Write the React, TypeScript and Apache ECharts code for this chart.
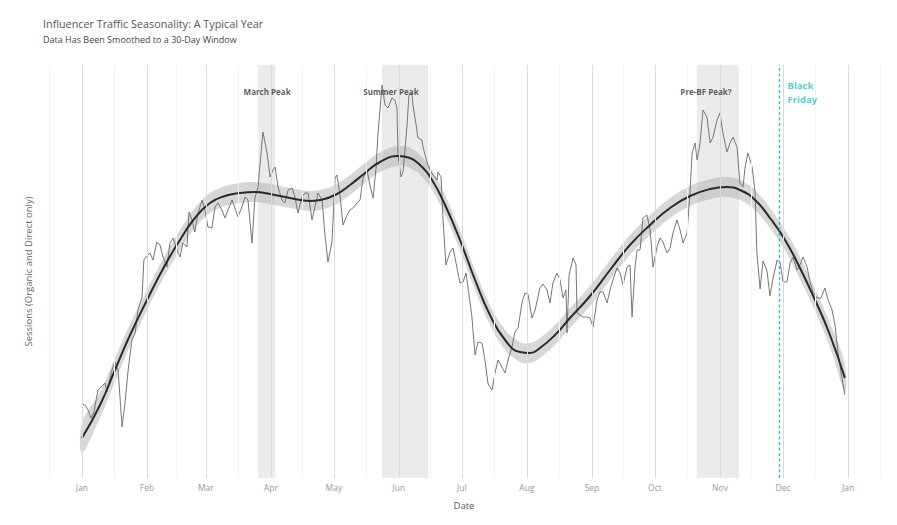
import React, { useEffect, useRef } from "react";
import * as echarts from "echarts";

// Day-of-year (0 = Jan 1) for month starts and their tick labels
const monthStartDays = [0, 31, 59, 90, 120, 151, 181, 212, 243, 273, 304, 334, 365];
const monthLabels = ["Jan", "Feb", "Mar", "Apr", "May", "Jun", "Jul", "Aug", "Sep", "Oct", "Nov", "Dec", "Jan"];
const midMonthDays = [-15.5, 15.5, 45, 74.5, 105, 135.5, 166, 196.5, 227.5, 258, 288.5, 319, 349.5, 380.5];

// Daily sessions (organic + direct), arbitrary units
const rawDays = [
  0.0, 1.4, 2.9, 4.3, 5.7, 7.6, 9.1, 11.0, 11.9, 12.9, 14.3, 15.7, 17.2, 19.1, 20.5, 21.9, 23.8, 25.3, 26.7, 28.6,
  29.5, 31.0, 32.4, 33.8, 35.7, 37.2, 38.6, 40.5, 41.9, 43.4, 45.3, 46.7, 48.1, 50.0, 51.0, 52.4, 53.8, 55.3, 57.2, 58.6,
  60.0, 61.9, 63.4, 64.8, 66.7, 68.1, 69.6, 71.5, 72.9, 74.3, 76.2, 77.7, 79.1, 81.0, 82.4, 83.9, 86.2, 88.2, 89.6, 91.0,
  92.0, 93.4, 95.3, 96.7, 98.2, 100.1, 101.5, 102.9, 104.8, 106.3, 107.7, 109.6, 111.0, 112.5, 114.4, 115.8, 117.2, 119.1, 120.6, 121.5,
  122.9, 124.4, 126.3, 127.7, 129.1, 131.0, 132.5, 133.9, 135.8, 137.2, 138.7, 140.1, 141.0, 143.0, 144.4, 145.8, 147.7, 149.1, 150.1, 150.6,
  152.0, 153.0, 154.9, 155.8, 157.2, 157.7, 159.2, 160.1, 162.0, 162.5, 164.4, 165.8, 167.3, 169.2, 169.6, 171.1, 172.0, 173.4, 175.4, 176.8,
  178.7, 180.1, 181.6, 183.0, 183.9, 185.8, 187.3, 188.7, 190.6, 192.0, 193.5, 195.4, 196.8, 198.2, 200.1, 201.6, 203.0, 204.9, 206.3, 207.8,
  209.7, 211.1, 212.5, 214.4, 215.9, 218.2, 219.7, 221.6, 223.0, 224.4, 226.3, 227.8, 229.2, 230.6, 231.1, 232.1, 234.0, 235.4, 235.9, 237.3,
  238.7, 240.6, 242.1, 243.5, 245.4, 246.8, 248.3, 250.2, 251.6, 253.0, 254.9, 256.4, 257.8, 259.7, 261.1, 262.1, 263.5, 264.5, 265.9, 267.3,
  269.2, 270.7, 272.1, 274.0, 275.4, 276.8, 278.8, 280.2, 281.6, 283.5, 285.0, 286.4, 288.3, 289.7, 290.7, 292.1, 293.1, 294.5, 295.9, 297.8,
  299.3, 300.7, 302.6, 304.0, 305.4, 307.3, 308.8, 310.2, 312.1, 313.5, 315.0, 315.9, 317.3, 319.3, 320.7, 321.6, 323.1, 324.5, 326.4, 327.8,
  329.3, 331.2, 332.6, 334.0, 335.9, 337.4, 338.8, 340.7, 342.1, 343.6, 345.5, 346.9, 348.3, 350.2, 352.1, 354.0, 355.5, 357.4, 358.8, 360.2,
  362.1, 363.5,
];
const rawSessions = [
  74, 73, 68, 60, 66, 88, 91, 95, 86, 96, 108, 116, 108, 51, 75, 106, 138, 145, 168, 181,
  218, 222, 225, 218, 236, 233, 221, 211, 235, 240, 228, 221, 235, 231, 266, 258, 246, 265, 278, 268,
  251, 250, 271, 275, 268, 260, 268, 278, 270, 261, 271, 281, 278, 235, 280, 291, 346, 325, 301, 308,
  311, 291, 278, 275, 288, 290, 281, 265, 281, 285, 285, 258, 271, 285, 278, 243, 216, 236, 300, 303,
  283, 253, 263, 268, 270, 275, 278, 300, 308, 293, 280, 310, 343, 393, 373, 370, 380, 378, 370, 323,
  301, 306, 353, 383, 385, 373, 353, 340, 338, 331, 316, 308, 303, 298, 306, 301, 260, 213, 226, 230,
  210, 195, 196, 205, 191, 161, 123, 136, 135, 118, 94, 88, 105, 118, 111, 105, 118, 131, 146, 150,
  176, 185, 184, 160, 168, 190, 194, 188, 175, 195, 205, 198, 180, 188, 145, 203, 220, 213, 165, 163,
  161, 161, 160, 151, 178, 186, 186, 175, 188, 198, 210, 205, 193, 211, 213, 161, 210, 228, 228, 260,
  263, 248, 211, 231, 240, 236, 225, 230, 245, 258, 248, 235, 245, 285, 325, 335, 318, 335, 368, 361,
  335, 341, 358, 365, 345, 326, 335, 341, 331, 295, 291, 310, 325, 311, 286, 225, 189, 217, 207, 182,
  200, 218, 216, 196, 196, 215, 221, 208, 213, 221, 211, 196, 186, 180, 180, 190, 178, 168, 153, 126,
  100, 83,
];

// 30-day smoothed trend and the half-width of its confidence band
const trendDays = [
  0, 8.6, 15.7, 22.9, 31.0, 39.6, 46.7, 53.8, 61.0, 68.1, 75.3, 82.4, 89.6, 99.1, 108.6, 113.4, 120.6, 127.7, 134.9, 142.0,
  150.6, 156.3, 161.1, 166.8, 173.0, 180.1, 187.3, 194.4, 201.6, 208.7, 213.5, 218.2, 225.4, 232.5, 242.1, 251.6, 261.1, 270.7, 280.2, 289.7,
  299.3, 307.3, 313.5, 320.7, 327.8, 335.0, 342.1, 349.3, 356.4, 363.5,
];
const trendSessions = [
  40, 73, 108, 143, 178, 213, 238, 260, 275, 282, 285, 286, 284, 280, 277, 278, 283, 293, 305, 316,
  322, 320, 313, 298, 273, 238, 198, 163, 138, 126, 125, 130, 143, 160, 182, 208, 233, 253, 270, 282,
  289, 291, 288, 278, 260, 238, 210, 178, 143, 100,
];
const trendBandHalf = [
  15, 13, 12, 11, 10, 10, 10, 10, 10, 10, 10, 10, 10, 10, 10, 10, 10, 10, 10, 10,
  10, 10, 10, 10, 10, 10, 10, 10, 10, 10, 10, 10, 10, 10, 10, 10, 10, 10, 10, 10,
  10, 10, 10, 10, 10, 10, 11, 11, 12, 14,
];

// Highlighted periods
const peakNames = ["March Peak", "Summer Peak", "Pre-BF Peak?"];
const peakStartDays = [84, 143, 293];
const peakEndDays = [92, 165, 313];
const peakLabelDays = [88.2, 147.2, 297.3];
const peakLabelSessions = [387, 387, 387];

const blackFridayDay = 332;
const blackFridayLabel = "Black\nFriday";
const blackFridayLabelDay = 336.2;
const blackFridayLabelSessions = 386;

const FONT = "'Open Sans', 'Noto Sans', sans-serif";

export default function App() {
  const ref = useRef<HTMLDivElement>(null);

  useEffect(() => {
    if (!ref.current) return;
    const chart = echarts.init(ref.current, undefined, { renderer: "svg" });

    const band = trendDays.map((d, i) => [d, trendSessions[i] - trendBandHalf[i], trendSessions[i] + trendBandHalf[i]]);
    const raw = rawDays.map((d, i) => [d, rawSessions[i]]);
    const trend = trendDays.map((d, i) => [d, trendSessions[i]]);

    const gridLines: any[] = [
      ...midMonthDays.map((d) => ({ xAxis: d, lineStyle: { color: "#f2f2f2", width: 1, type: "solid" } })),
      ...monthStartDays.map((d) => ({ xAxis: d, lineStyle: { color: "#dadada", width: 1, type: "solid" } })),
    ];

    const option: any = {
      animation: false,
      textStyle: { fontFamily: FONT },
      title: {
        text: "Influencer Traffic Seasonality: A Typical Year",
        subtext: "Data Has Been Smoothed to a 30-Day Window",
        left: 35,
        top: 10,
        padding: 0,
        itemGap: 6,
        textStyle: { fontFamily: FONT, fontSize: 10.8, fontWeight: "normal", color: "#555" },
        subtextStyle: { fontFamily: FONT, fontSize: 9, color: "#444" },
      },
      grid: { left: 36.2, right: 5.3, top: 57, bottom: 39 },
      xAxis: {
        type: "value",
        min: -18,
        max: 382,
        axisLine: { show: false },
        axisTick: { show: false },
        splitLine: { show: false },
        axisLabel: {
          customValues: monthStartDays,
          formatter: (v: number) => {
            const i = monthStartDays.indexOf(v);
            return i >= 0 ? monthLabels[i] : "";
          },
          color: "#999",
          fontSize: 8.5,
          margin: 5,
          fontFamily: FONT,
        },
        name: "Date",
        nameLocation: "middle",
        nameGap: 22,
        nameTextStyle: { color: "#555", fontSize: 9.5, fontFamily: FONT },
      },
      yAxis: {
        type: "value",
        min: 0,
        max: 413,
        axisLine: { show: false },
        axisTick: { show: false },
        axisLabel: { show: false },
        splitLine: { show: false },
        name: "Sessions (Organic and Direct only)",
        nameLocation: "middle",
        nameGap: 11,
        nameTextStyle: { color: "#666", fontSize: 9.5, fontFamily: FONT },
      },
      series: [
        {
          name: "background",
          type: "line",
          data: [],
          symbol: "none",
          silent: true,
          z: 1,
          markArea: {
            silent: true,
            itemStyle: { color: "rgba(200,200,200,0.36)" },
            label: { show: false },
            data: peakNames.map((n, i) => [{ name: n, xAxis: peakStartDays[i] }, { xAxis: peakEndDays[i] }]),
          },
          markLine: {
            silent: true,
            symbol: "none",
            label: { show: false },
            data: gridLines,
          },
        },
        {
          name: "Confidence band",
          type: "custom",
          data: band,
          encode: { x: 0, y: [1, 2] },
          silent: true,
          z: 2,
          renderItem: (params: any, api: any) => {
            if (params.dataIndex !== 0) return null;
            const up = band.map((b) => api.coord([b[0], b[2]]));
            const lo = band.map((b) => api.coord([b[0], b[1]])).reverse();
            return {
              type: "polygon",
              shape: { points: up.concat(lo), smooth: 0.35 },
              style: { fill: "rgba(175,175,175,0.5)" },
              silent: true,
            };
          },
        },
        {
          name: "Daily sessions",
          type: "line",
          data: raw,
          symbol: "none",
          lineStyle: { color: "#767676", width: 1 },
          z: 3,
        },
        {
          name: "Trend",
          type: "line",
          data: trend,
          smooth: true,
          symbol: "none",
          lineStyle: { color: "#2a2a2a", width: 2 },
          z: 4,
          markLine: {
            silent: true,
            symbol: "none",
            label: { show: false },
            lineStyle: { color: "#1fc2c6", width: 1.3, type: [3, 2.5] },
            data: [{ xAxis: blackFridayDay }],
          },
        },
        {
          name: "peakLabels",
          type: "scatter",
          symbolSize: 0,
          silent: true,
          z: 5,
          data: peakNames.map((n, i) => ({ value: [peakLabelDays[i], peakLabelSessions[i]], name: n })),
          label: {
            show: true,
            position: "inside",
            formatter: (p: any) => p.name,
            color: "#333",
            fontSize: 8,
            fontWeight: "bold",
            fontFamily: FONT,
          },
        },
        {
          name: "bfLabel",
          type: "scatter",
          symbolSize: 0,
          silent: true,
          z: 5,
          data: [{ value: [blackFridayLabelDay, blackFridayLabelSessions], name: blackFridayLabel }],
          label: {
            show: true,
            position: "right",
            distance: 0,
            formatter: (p: any) => p.name,
            color: "#1fc2c6",
            fontSize: 9.5,
            lineHeight: 14,
            fontWeight: "bold",
            fontFamily: FONT,
          },
        },
      ],
    };

    chart.setOption(option);
    return () => chart.dispose();
  }, []);

  return <div ref={ref} style={{ width: 881, height: 509 }} />;
}
